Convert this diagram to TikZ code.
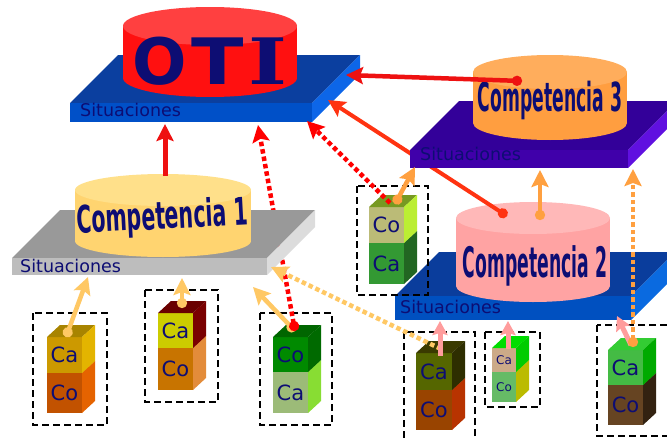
\documentclass[tikz,border=0pt]{standalone}
\usepackage{fontspec}
\setmainfont{DejaVu Sans}
\newfontfamily\oticap{DejaVu Serif}
\usetikzlibrary{arrows.meta}

\definecolor{ink}{HTML}{0D0D73}
\definecolor{redline}{HTML}{EE1111}
\definecolor{redorange}{HTML}{FF3311}
\definecolor{reddot}{HTML}{FF0000}
\definecolor{sand}{HTML}{FFC864}
\definecolor{amber}{HTML}{FFA040}
\definecolor{rosy}{HTML}{FF9C9C}

\newcommand\platform[9]{%
  \definecolor{slabT}{HTML}{#7}\definecolor{slabF}{HTML}{#8}\definecolor{slabS}{HTML}{#9}%
  \fill[slabT] (#2,#3) -- ++(#4,0) -- ++(#5,-#5) -- ++(-#4,0) -- cycle;
  \fill[slabF] (#2,#3) rectangle ++(#4,#6);
  \fill[slabS] (#2+#4,#3) -- ++(#5,-#5) -- ++(0,#6) -- ++(-#5,#5) -- cycle;
  \coordinate (#1) at (#2,#3);
}
\newcommand\drum[8]{%
  \definecolor{drumT}{HTML}{#7}\definecolor{drumB}{HTML}{#8}%
  \fill[drumB] (#2-#4,#3) rectangle (#2+#4,#3+#6);
  \fill[drumB] (#2,#3+#6) ellipse [x radius=#4,y radius=#5];
  \fill[drumT] (#2,#3) ellipse [x radius=#4,y radius=#5];
  \coordinate (#1) at (#2,#3);
}
\newcommand\cubeblock[9]{%
  \definecolor{cubeF}{HTML}{#6}\definecolor{cubeT}{HTML}{#7}\definecolor{cubeS}{HTML}{#8}%
  \fill[cubeF] (#2,#3) rectangle ++(#4,#5);
  \fill[cubeT] (#2,#3) -- ++(13,-12) -- ++(#4,0) -- ++(-13,12) -- cycle;
  \fill[cubeS] (#2+#4,#3) -- ++(13,-12) -- ++(0,#5) -- ++(-13,12) -- cycle;
  \node[cubetext] (#1) at (#2+#4/2,#3+#5/2) {#9};
}

\begin{document}
\begin{tikzpicture}[x=1pt,y=-1pt,
    sit/.style={text=ink,inner sep=0pt,anchor=base west,font=\fontsize{17.5}{17.5}\selectfont},
    comp/.style={text=ink,inner sep=0pt,anchor=base,font=\bfseries\fontsize{40}{40}\selectfont},
    cubetext/.style={text=ink,inner sep=0pt,font=\fontsize{21}{21}\selectfont},
    dashbox/.style={draw=black,line width=2.5pt,dash pattern=on 7pt off 4pt},
    shaft/.style={line width=4.5pt,arrows={-Stealth[length=17pt,width=17pt,inset=3pt]}},
    dotshaft/.style={line width=4.5pt,arrows={Circle[length=10pt]-Stealth[length=17pt,width=17pt,inset=3pt]}},
    squaredots/.style={dash pattern=on 4.5pt off 3pt}]
  \useasboundingbox (0,0) rectangle (667,439);

  \platform{oti slab}{70}{103}{242}{48}{19}{0B3F9F}{0050C8}{0D66E8}
  \drum{oti}{210}{26}{87}{19}{52}{FF4040}{FF1010}
  \node[comp,text depth=0pt,font=\bfseries\fontsize{64}{64}\selectfont] (oti text) at (210,84)
    {O\kern4pt\scalebox{1.2}[1]{T}\kern5pt{\oticap\scalebox{1.3}[1]{I}}};
  \node[sit] (oti sit) at (80,116) {Situaciones};

  \platform{c2 slab}{395}{296}{236}{44}{24}{0A3D9C}{0050C0}{0A6AE0}
  \drum{c2}{533}{218}{77}{16}{68}{FFB8B8}{FFA3A3}
  \node[comp,font=\bfseries\fontsize{42}{42}\selectfont] (c2 text) at (535,277) {\scalebox{0.41}[1]{Competencia 2}};
  \node[sit] (c2 sit) at (400,313) {Situaciones};

  \coordinate (c2 face) at (507,216);
  \coordinate (oti side b) at (328,100);
  \draw[redorange,dotshaft,line width=4pt] (c2 face) -- (oti side b);

  \platform{c3 slab}{410}{150}{218}{49}{18}{330099}{4000AA}{6010E0}
  \drum{c3}{550}{72}{77}{17}{51}{FFAD5C}{FF9E40}
  \node[comp] (c3 text) at (550,111) {\scalebox{0.43}[1]{Competencia 3}};
  \node[sit] (c3 sit) at (420,160) {Situaciones};

  \foreach \a/\b/\c/\d in {33/313/107/425, 145/290/218/402, 260/313/332/425,
      357/186/428/295, 404/332/475/442, 485/332/540/407, 597/325/675/436}
    \draw[dashbox] (\a,\b) rectangle (\c,\d);

  \cubeblock{s1 co}{47}{373}{35}{40}{C25200}{C25200}{E56300}{Co}
  \cubeblock{s1 ca}{47}{337}{35}{36}{CC9900}{A88400}{E3B400}{Ca}
  \cubeblock{s2 co}{158}{348}{35}{42}{C87400}{C87400}{E38C3A}{Co}
  \cubeblock{s2 ca}{158}{313}{35}{35}{CCCC00}{6A0000}{7A0000}{Ca}
  \cubeblock{s3 ca}{273}{372}{35}{41}{9CBB78}{9CBB78}{88DD33}{Ca}
  \cubeblock{s3 co}{273}{337}{35}{35}{008A00}{006600}{006A00}{Co}
  \cubeblock{s4 ca}{369}{243}{35}{41}{339933}{339933}{226622}{Ca}
  \cubeblock{s4 co}{369}{207}{35}{36}{BBBB77}{779922}{BBEE33}{Co}
  \cubeblock{s5 co}{416}{390}{36}{40}{994400}{994400}{B83300}{Co}
  \cubeblock{s5 ca}{416}{353}{36}{37}{556600}{3A3A00}{2E2E00}{Ca}
  \cubeblock{s6 co}{492}{372}{24}{30}{66BB66}{66BB66}{BBBB00}{\fontsize{12}{12}\selectfont Co}
  \cubeblock{s6 ca}{492}{348}{24}{24}{CCAA88}{00DD00}{00CC00}{\fontsize{12}{12}\selectfont Ca}
  \cubeblock{s7 co}{608}{385}{35}{40}{664422}{664422}{332211}{Co}
  \cubeblock{s7 ca}{608}{350}{35}{35}{44BB44}{33CC33}{00AA00}{Ca}

  \coordinate (s3 top) at (295,331);
  \coordinate (c1 under c) at (253,287);
  \coordinate (oti under b) at (258,125);
  \draw[sand,dotshaft] (s3 top) -- (c1 under c);
  \draw[reddot,dotshaft,squaredots] (s3 top) -- (oti under b);

  \platform{c1 slab}{12}{258}{255}{48}{17}{999999}{BDBDBD}{DCDCDC}
  \drum{c1}{163}{190}{88}{16}{51}{FFE08A}{FFD470}
  \node[comp,rotate=3,font=\bfseries\fontsize{38}{38}\selectfont] (c1 text) at (163,229) {\scalebox{0.54}[1]{Competencia 1}};
  \node[sit] (c1 sit) at (20,272) {Situaciones};

  \coordinate (c1 top) at (165,176);
  \coordinate (oti under a) at (165,124);
  \coordinate (s4 top) at (390,203);
  \coordinate (oti under c) at (307,121);
  \coordinate (c3 face) at (522,81);
  \coordinate (oti side a) at (346,75);
  \draw[redline,shaft,line width=5pt] (c1 top) -- (oti under a);
  \draw[reddot,shaft,squaredots] (s4 top) -- (oti under c);
  \draw[redline,dotshaft] (c3 face) -- (oti side a);

  \coordinate (s1 top) at (66,337);
  \coordinate (c1 under a) at (88,277);
  \coordinate (s2 top) at (182,308);
  \coordinate (c1 under b) at (182,278);
  \coordinate (s5 top) at (441,349);
  \coordinate (c1 under d) at (271,267);
  \draw[sand,dotshaft] (s1 top) -- (c1 under a);
  \draw[sand,dotshaft] (s2 top) -- (c1 under b);
  \draw[sand,shaft,squaredots] (s5 top) -- (c1 under d);

  \coordinate (s4 pin) at (395,204);
  \coordinate (c3 under a) at (415,167);
  \coordinate (c2 top) at (540,220);
  \coordinate (c3 under b) at (540,170);
  \draw[amber,dotshaft] (s4 pin) -- (c3 under a);
  \draw[amber,dotshaft] (c2 top) -- (c3 under b);

  \coordinate (s5 pin) at (440,356);
  \coordinate (c2 under a) at (440,321);
  \coordinate (s6 pin) at (508,349);
  \coordinate (c2 under b) at (508,321);
  \coordinate (s7 pin) at (631,345);
  \coordinate (c2 under c) at (617,316);
  \foreach \p/\q in {s5 pin/c2 under a, s6 pin/c2 under b, s7 pin/c2 under c}
    \draw[rosy,shaft,line width=5pt,arrows={-Stealth[length=14pt,width=15pt,inset=2pt]}] (\p) -- (\q);

  \coordinate (s7 top) at (633,347);
  \coordinate (c3 under c) at (633,169);
  \draw[amber,dotshaft,squaredots] (s7 top) -- (c3 under c);
\end{tikzpicture}
\end{document}
